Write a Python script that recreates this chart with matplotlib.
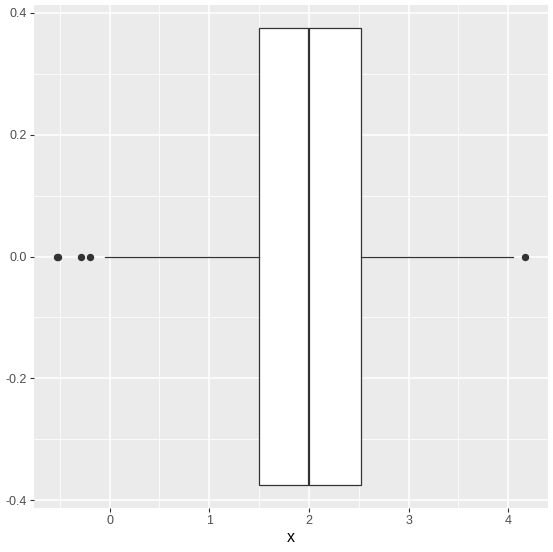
import matplotlib.pyplot as plt

plt.rcParams["font.family"] = ["Liberation Sans", "DejaVu Sans"]

# summary of the boxplot
q1 = 1.495
median = 2.0
q3 = 2.525
whisker_low = -0.05
whisker_high = 4.05
outliers = [-0.525, -0.52, -0.29, -0.2, 4.165]

x_ticks = [0, 1, 2, 3, 4]
y_ticks = [-0.4, -0.2, 0.0, 0.2, 0.4]

fig = plt.figure(figsize=(5.53, 5.52), dpi=100)
ax = fig.add_axes([34 / 553, 1 - 508 / 552, 514 / 553, 503 / 552])
ax.set_facecolor("#EBEBEB")

stats = [
    {
        "q1": q1,
        "med": median,
        "q3": q3,
        "whislo": whisker_low,
        "whishi": whisker_high,
        "fliers": outliers,
    }
]
ax.bxp(
    stats,
    positions=[0],
    widths=0.75,
    orientation="horizontal",
    showcaps=False,
    patch_artist=True,
    boxprops=dict(facecolor="white", edgecolor="#333333", linewidth=0.9),
    whiskerprops=dict(color="#333333", linewidth=0.9),
    medianprops=dict(color="#333333", linewidth=1.6),
    flierprops=dict(marker="o", markersize=4.3, markerfacecolor="#333333",
                    markeredgecolor="#333333"),
    zorder=3,
)

lo = min(outliers + [whisker_low])
hi = max(outliers + [whisker_high])
pad = (hi - lo) * 0.05
ax.set_xlim(lo - pad, hi + pad)
ax.set_ylim(-0.4125, 0.4125)

ax.set_xticks(x_ticks)
ax.set_xticklabels([str(t) for t in x_ticks])
ax.set_yticks(y_ticks)
ax.set_yticklabels([f"{t:.1f}" for t in y_ticks])
ax.set_xticks([-0.5, 0.5, 1.5, 2.5, 3.5], minor=True)
ax.set_yticks([-0.3, -0.1, 0.1, 0.3], minor=True)

ax.grid(True, which="major", color="white", linewidth=1.1, zorder=0)
ax.grid(True, which="minor", color="white", linewidth=0.55, zorder=0)
ax.set_axisbelow(True)
for s in ax.spines.values():
    s.set_visible(False)

ax.tick_params(which="major", length=3, width=0.8, color="#333333",
               labelcolor="#4D4D4D", labelsize=9, pad=2)
ax.tick_params(which="minor", length=0)
ax.set_xlabel("x", fontsize=11.5, color="black", labelpad=2)

plt.savefig("out.png", dpi=100)
